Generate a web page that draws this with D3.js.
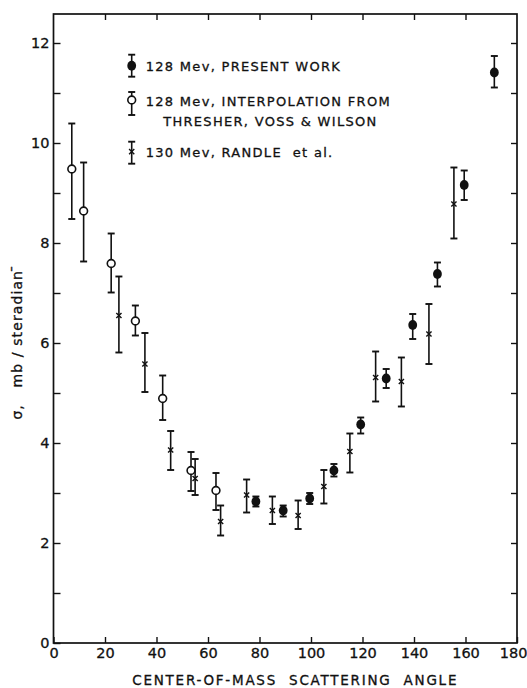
<!DOCTYPE html>
<html>
<head>
<meta charset="utf-8">
<script src="https://cdn.jsdelivr.net/npm/d3@7"></script>
<style>
  body { margin: 0; background: #fff; }
  text { font-family: "DejaVu Sans", sans-serif; fill: #111; stroke: #111; stroke-width: 0.3; white-space: pre; }
</style>
</head>
<body>
<div id="chart"></div>
<script>
// 128 Mev, present work
var presentAngle = [78.6, 89.2, 99.5, 108.9, 119.3, 129.2, 139.5, 149.1, 159.5, 171.2];
var presentSigma = [2.83, 2.65, 2.89, 3.45, 4.37, 5.29, 6.36, 7.38, 9.16, 11.41];
var presentLow   = [2.73, 2.53, 2.78, 3.33, 4.19, 5.10, 6.08, 7.13, 8.86, 11.11];
var presentHigh  = [2.93, 2.75, 3.00, 3.58, 4.51, 5.48, 6.58, 7.61, 9.45, 11.74];

// 128 Mev, interpolation from Thresher, Voss & Wilson
var interpAngle = [7.1, 11.7, 22.4, 31.8, 42.4, 53.4, 63.1];
var interpSigma = [9.48, 8.64, 7.59, 6.44, 4.89, 3.45, 3.05];
var interpLow   = [8.48, 7.63, 7.01, 6.15, 4.46, 3.04, 2.66];
var interpHigh  = [10.39, 9.61, 8.19, 6.75, 5.35, 3.82, 3.40];

// 130 Mev, Randle et al.
var randleAngle = [25.4, 35.5, 45.5, 55.0, 64.9, 75.0, 85.0, 95.0, 105.0, 115.1, 125.1, 135.1, 145.8, 155.5];
var randleSigma = [6.55, 5.58, 3.86, 3.29, 2.43, 2.96, 2.65, 2.55, 3.13, 3.83, 5.31, 5.23, 6.18, 8.78];
var randleLow   = [5.81, 5.02, 3.46, 2.96, 2.15, 2.61, 2.38, 2.28, 2.79, 3.41, 4.83, 4.73, 5.58, 8.09];
var randleHigh  = [7.33, 6.20, 4.24, 3.68, 2.75, 3.27, 2.93, 2.85, 3.46, 4.19, 5.83, 5.71, 6.78, 9.51];

var xTicks = [0, 20, 40, 60, 80, 100, 120, 140, 160, 180];
var yTicks = [0, 1, 2, 3, 4, 5, 6, 7, 8, 9, 10, 11, 12];

var W = 527, H = 688;
var svg = d3.select("#chart").append("svg").attr("width", W).attr("height", H);

var x = d3.scaleLinear().domain([0, 180]).range([53.5, 517]);
var y = d3.scaleLinear().domain([0, 12]).range([643, 43]);
var yTop = 12.58;

// frame
svg.append("rect")
  .attr("x", x(0)).attr("y", y(yTop))
  .attr("width", x(180) - x(0)).attr("height", y(0) - y(yTop))
  .attr("fill", "none").attr("stroke", "#111").attr("stroke-width", 1.7);

function styleAxis(g) {
  g.select(".domain").remove();
  g.selectAll(".tick line").attr("stroke", "#111").attr("stroke-width", 1.4);
  g.selectAll(".tick text").attr("font-size", 14.5).attr("fill", "#111");
}

svg.append("g").attr("transform", "translate(0," + y(0) + ")")
  .call(d3.axisBottom(x).tickValues(xTicks).tickSize(-6).tickPadding(5))
  .call(styleAxis)
  .selectAll(".tick text")
  .filter(function(d){ return d === 180; })
  .attr("text-anchor", "end").attr("dx", 10);

svg.append("g").attr("transform", "translate(0," + y(yTop) + ")")
  .call(d3.axisTop(x).tickValues(xTicks.slice(1, -1)).tickSize(-6).tickFormat(""))
  .call(styleAxis);

svg.append("g").attr("transform", "translate(" + x(0) + ",0)")
  .call(d3.axisLeft(y).tickValues(yTicks).tickSize(-7).tickPadding(4)
    .tickFormat(function(d){ return d % 2 === 0 ? d : ""; }))
  .call(styleAxis);

svg.append("g").attr("transform", "translate(" + x(180) + ",0)")
  .call(d3.axisRight(y).tickValues(yTicks.slice(1)).tickSize(-6).tickFormat(""))
  .call(styleAxis);

// axis titles
svg.append("text")
  .attr("x", (x(0) + x(180)) / 2 + 10).attr("y", 685)
  .attr("text-anchor", "middle").attr("font-size", 13.5)
  .attr("letter-spacing", 1.75)
  .text("CENTER-OF-MASS  SCATTERING  ANGLE");

svg.append("text")
  .attr("transform", "translate(22,342) rotate(-90)")
  .attr("text-anchor", "middle").attr("font-size", 14)
  .attr("letter-spacing", 1.1)
  .text("σ,   mb / steradian ̄");

// error bars + markers
function errorBars(angle, lo, hi) {
  var g = svg.append("g").attr("stroke", "#111");
  g.selectAll("line.bar").data(angle).enter().append("line")
    .attr("x1", function(d){ return x(d); }).attr("x2", function(d){ return x(d); })
    .attr("y1", function(d, i){ return y(lo[i]); })
    .attr("y2", function(d, i){ return y(hi[i]); })
    .attr("stroke-width", 1.6);
  [lo, hi].forEach(function(arr){
    g.selectAll(null).data(angle).enter().append("line")
      .attr("x1", function(d){ return x(d) - 3.5; }).attr("x2", function(d){ return x(d) + 3.5; })
      .attr("y1", function(d, i){ return y(arr[i]); })
      .attr("y2", function(d, i){ return y(arr[i]); })
      .attr("stroke-width", 1.9);
  });
}

errorBars(interpAngle, interpLow, interpHigh);
errorBars(randleAngle, randleLow, randleHigh);
errorBars(presentAngle, presentLow, presentHigh);

function filledMark(sel) {
  sel.append("ellipse").attr("rx", 4.4).attr("ry", 5).attr("fill", "#111");
}
function openMark(sel) {
  sel.append("circle").attr("r", 3.9).attr("fill", "#fff").attr("stroke", "#111").attr("stroke-width", 1.6);
}
function crossMark(sel) {
  sel.append("path").attr("d", "M-2.6,-2.6L2.6,2.6M-2.6,2.6L2.6,-2.6")
    .attr("stroke", "#111").attr("stroke-width", 1.4).attr("fill", "none");
}

function markers(angle, sigma, fn) {
  svg.append("g").selectAll("g").data(angle).enter().append("g")
    .attr("transform", function(d, i){ return "translate(" + x(d) + "," + y(sigma[i]) + ")"; })
    .call(fn);
}
markers(interpAngle, interpSigma, openMark);
markers(randleAngle, randleSigma, crossMark);
markers(presentAngle, presentSigma, filledMark);

// legend
var legend = [
  { mark: filledMark, lines: ["128 Mev, PRESENT WORK"], up: 11, down: 11 },
  { mark: openMark, lines: ["128 Mev, INTERPOLATION FROM", "THRESHER, VOSS & WILSON"], up: 8, down: 15 },
  { mark: crossMark, lines: ["130 Mev, RANDLE  et al."], up: 10, down: 12 }
];
var legendX = 131.7, legendY = [65.7, 100, 151.7];
legend.forEach(function(item, i){
  var g = svg.append("g").attr("transform", "translate(" + legendX + "," + legendY[i] + ")");
  g.append("line").attr("x1", 0).attr("x2", 0).attr("y1", -item.up).attr("y2", item.down)
    .attr("stroke", "#111").attr("stroke-width", 1.6);
  [-item.up, item.down].forEach(function(v){
    g.append("line").attr("x1", -3.5).attr("x2", 3.5).attr("y1", v).attr("y2", v)
      .attr("stroke", "#111").attr("stroke-width", 1.9);
  });
  g.call(item.mark);
  item.lines.forEach(function(t, j){
    g.append("text")
      .attr("x", j === 0 ? 14 : 31.5).attr("y", 5.5 + j * 20.5)
      .attr("font-size", 13).attr("letter-spacing", 1.3)
      .text(t);
  });
});
</script>
</body>
</html>
